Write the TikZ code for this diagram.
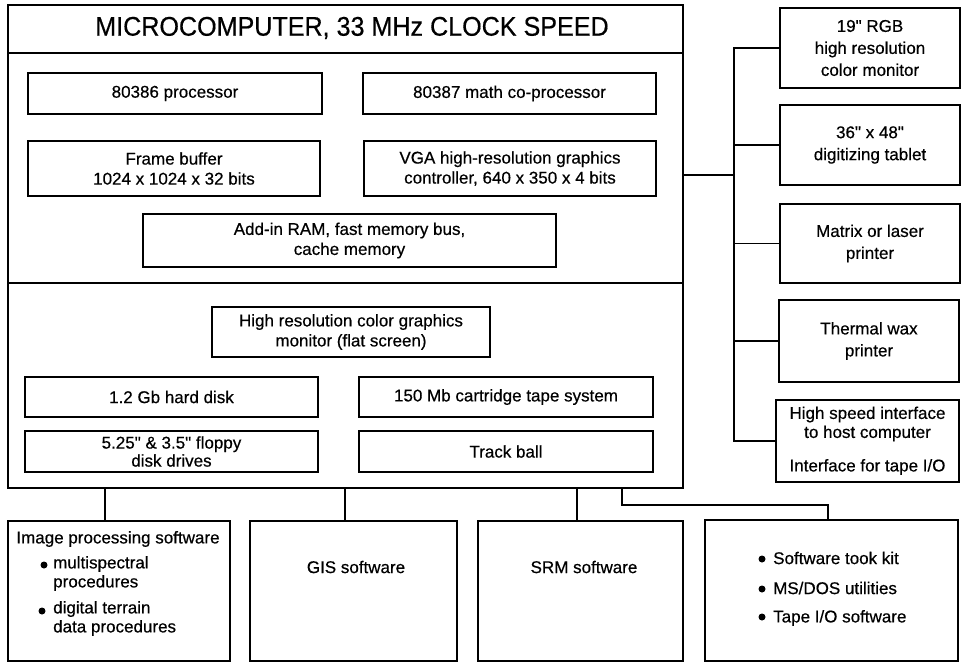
\documentclass[tikz,border=0pt]{standalone}
\usepackage{fontspec}
\setmainfont{Liberation Sans}[UprightFeatures={FakeBold=0.5}]
\newcommand{\qmark}{\textquotedbl}
\begin{document}
\begin{tikzpicture}[x=1pt,y=-1pt,
  box/.style={draw, line width=1.1pt, inner sep=0pt, align=center, font=\fontsize{17}{20}\selectfont},
  rbox/.style={box, minimum width=180pt, minimum height=80pt, font=\fontsize{17}{22}\selectfont},
  txt/.style={inner sep=0pt, font=\fontsize{17}{20}\selectfont},
  dot/.style={circle, fill, inner sep=0pt, minimum size=7pt},
  wire/.style={line width=1.1pt}]
\useasboundingbox (0,0) rectangle (963,663);
% main computer box
\node[box, line width=1.3pt, minimum width=675pt, minimum height=483pt] (main) at (345.5,246.5) {};
\coordinate (d1) at (0,53);
\coordinate (d2) at (0,283);
\draw[wire] (main.west |- d1) -- (main.east |- d1);
\draw[wire] (main.west |- d2) -- (main.east |- d2);
\node[txt, font=\fontsize{27}{30}\selectfont] (title) at (352,28) {\scalebox{0.93}[1]{MICROCOMPUTER, 33 MHz CLOCK SPEED}};
% inner boxes
\node[box, minimum width=294pt, minimum height=41pt] (proc) at (175,93.5) {80386 processor};
\node[box, minimum width=293pt, minimum height=41pt] (copro) at (509.5,93.5) {80387 math co-processor};
\node[box, minimum width=292pt, minimum height=55pt] (frame) at (174,168.5) {Frame buffer\\1024 x 1024 x 32 bits};
\node[box, minimum width=292pt, minimum height=55pt] (vga) at (510,168.5) {VGA high-resolution graphics\\controller, 640 x 350 x 4 bits};
\node[box, minimum width=413pt, minimum height=53pt] (ram) at (349.5,240.5) {Add-in RAM, fast memory bus,\\cache memory};
\node[box, minimum width=278pt, minimum height=50pt] (mon) at (351,332) {High resolution color graphics\\monitor (flat screen)};
\node[box, minimum width=293pt, minimum height=40pt] (hdd) at (171.5,397) {1.2 Gb hard disk};
\node[box, minimum width=294pt, minimum height=40pt] (tape) at (506,397) {150 Mb cartridge tape system};
\node[box, minimum width=293pt, minimum height=41pt, font=\fontsize{17}{18}\selectfont] (floppy) at (171.5,451.5) {5.25\qmark{} \& 3.5\qmark{} floppy\\disk drives};
\node[box, minimum width=294pt, minimum height=41pt] (track) at (506,451.5) {Track ball};
% right peripherals
\node[rbox] (rgb) at (870,48) {19\qmark{} RGB\\high resolution\\color monitor};
\node[rbox] (tablet) at (870,145) {36\qmark{} x 48\qmark\\digitizing tablet};
\node[rbox, minimum height=79pt] (matrix) at (870,243.5) {Matrix or laser\\printer};
\node[rbox, minimum height=82pt] (thermal) at (869,341) {Thermal wax\\printer};
\node[box, minimum width=183pt, minimum height=82pt] (hsi) at (867.5,441) {};
\node[txt, align=center, font=\fontsize{17}{19}\selectfont] (hsi1) at (867.5,424) {High speed interface\\to host computer};
\node[txt] (hsi2) at (867.5,467) {Interface for tape I/O};
% bottom software boxes
\node[box, minimum width=222pt, minimum height=140pt] (img) at (119,591) {};
\node[box, minimum width=207pt, minimum height=140pt] (gis) at (353.5,591) {};
\node[box, minimum width=205pt, minimum height=140pt] (srm) at (580.5,591) {};
\node[box, minimum width=253pt, minimum height=141pt] (kit) at (831.5,590.5) {};
\node[txt] (imgt) at (118,539) {Image processing software};
\node[dot] (ib1) at (44,565) {};
\node[txt, anchor=west] (i1) at (53,564) {multispectral};
\node[txt, anchor=west] (i2) at (53,583) {procedures};
\node[dot] (ib2) at (42,611) {};
\node[txt, anchor=west] (i3) at (53,609) {digital terrain};
\node[txt, anchor=west] (i4) at (53,628) {data procedures};
\node[txt] (gist) at (356,567) {GIS software};
\node[txt] (srmt) at (584,567) {SRM software};
\node[dot] (kb1) at (762,559) {};
\node[txt, anchor=west] (k1) at (773,558) {Software took kit};
\node[dot] (kb2) at (762,589) {};
\node[txt, anchor=west] (k2) at (773,588) {MS/DOS utilities};
\node[dot] (kb3) at (762,617) {};
\node[txt, anchor=west] (k3) at (773,618) {Tape I/O software};
% connectors to peripherals
\coordinate (bus) at (734,175);
\draw[wire] (bus -| main.east) -- (bus);
\foreach \n in {rgb,tablet,matrix,thermal,hsi} \draw[wire] (bus) |- (\n.west);
% connectors to software
\draw[wire] ([xshift=-14pt]img.north) -- ([xshift=-14pt]img.north |- main.south);
\draw[wire] ([xshift=-8.5pt]gis.north) -- ([xshift=-8.5pt]gis.north |- main.south);
\draw[wire] ([xshift=-3.5pt]srm.north) -- ([xshift=-3.5pt]srm.north |- main.south);
\coordinate (kbend) at (622,505);
\draw[wire] (kbend |- main.south) -- (kbend) -| ([xshift=-3.5pt]kit.north);
\end{tikzpicture}
\end{document}
